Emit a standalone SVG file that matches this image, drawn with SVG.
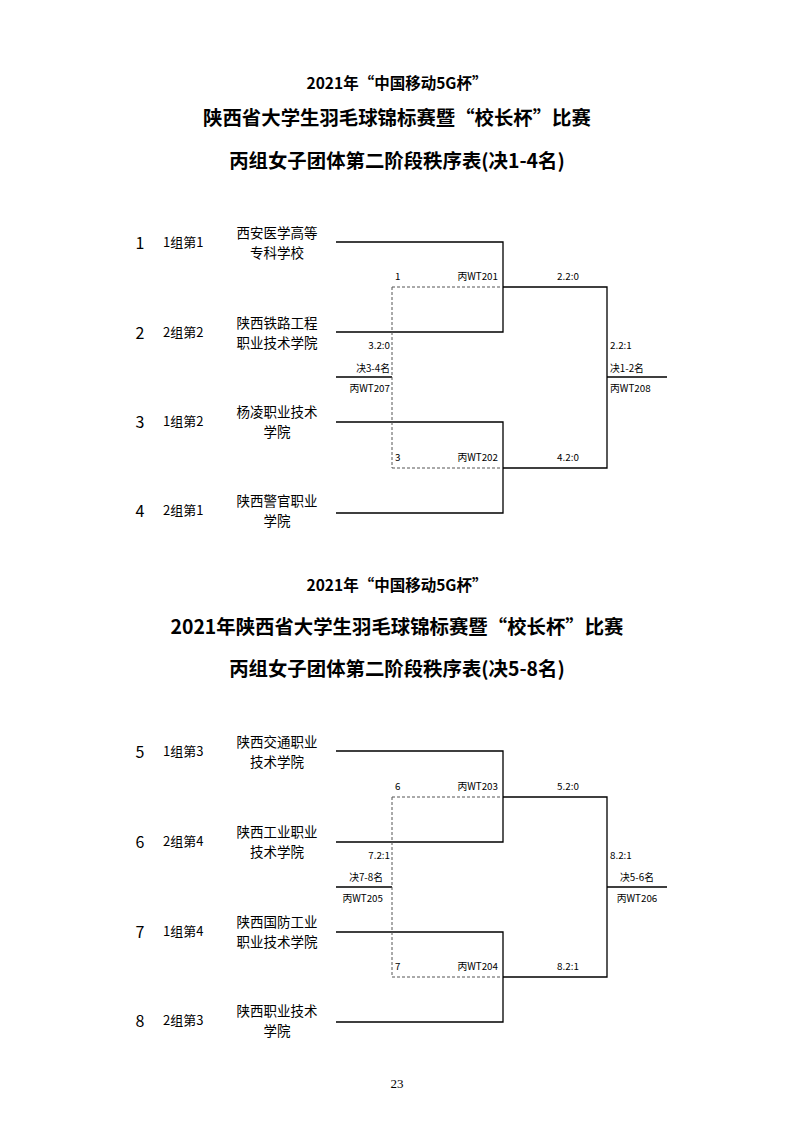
<svg xmlns="http://www.w3.org/2000/svg" width="794" height="1123" viewBox="0 0 794 1123">
<style>
text{font-family:"Noto Sans CJK SC","Noto Sans",sans-serif;fill:#000}
.t1{font-size:15.5px;font-weight:bold;text-anchor:middle}
.t2{font-size:19.4px;font-weight:bold;text-anchor:middle}
.num{font-size:16px;text-anchor:middle}
.grp{font-size:13px}
.sch{font-size:13.5px;text-anchor:middle}
.s{font-size:9.8px}
.e{text-anchor:end}
.m{text-anchor:middle}
.ln{stroke:#000;stroke-width:1.3;fill:none}
.ds{stroke:#555;stroke-width:1;stroke-dasharray:3,2;fill:none}
</style>
<rect width="794" height="1123" fill="#fff"/>
<g id="titles">
<text class="t1" x="397" y="89">2021年“中国移动5G杯”</text>
<text class="t2" x="397" y="125">陕西省大学生羽毛球锦标赛暨“校长杯”比赛</text>
<text class="t2" x="397" y="168">丙组女子团体第二阶段秩序表(决1-4名)</text>
<text class="t1" x="397" y="591">2021年“中国移动5G杯”</text>
<text class="t2" x="397" y="634">2021年陕西省大学生羽毛球锦标赛暨“校长杯”比赛</text>
<text class="t2" x="397" y="676">丙组女子团体第二阶段秩序表(决5-8名)</text>
<text x="397" y="1088" style="font-family:'Liberation Serif',serif;font-size:13px;text-anchor:middle">23</text>
</g>
<g id="team1"><text class="num" x="140" y="249">1</text><text class="grp" x="163" y="247">1组第1</text><text class="sch" x="277" y="238">西安医学高等</text><text class="sch" x="277" y="258">专科学校</text></g>
<g id="team2"><text class="num" x="140" y="339">2</text><text class="grp" x="163" y="337">2组第2</text><text class="sch" x="277" y="328">陕西铁路工程</text><text class="sch" x="277" y="348">职业技术学院</text></g>
<g id="team3"><text class="num" x="140" y="428">3</text><text class="grp" x="163" y="426">1组第2</text><text class="sch" x="277" y="417">杨凌职业技术</text><text class="sch" x="277" y="437">学院</text></g>
<g id="team4"><text class="num" x="140" y="517">4</text><text class="grp" x="163" y="515">2组第1</text><text class="sch" x="277" y="506">陕西警官职业</text><text class="sch" x="277" y="526">学院</text></g>
<g id="team5"><text class="num" x="140" y="758">5</text><text class="grp" x="163" y="756">1组第3</text><text class="sch" x="277" y="747">陕西交通职业</text><text class="sch" x="277" y="767">技术学院</text></g>
<g id="team6"><text class="num" x="140" y="848">6</text><text class="grp" x="163" y="846">2组第4</text><text class="sch" x="277" y="837">陕西工业职业</text><text class="sch" x="277" y="857">技术学院</text></g>
<g id="team7"><text class="num" x="140" y="938">7</text><text class="grp" x="163" y="936">1组第4</text><text class="sch" x="277" y="927">陕西国防工业</text><text class="sch" x="277" y="947">职业技术学院</text></g>
<g id="team8"><text class="num" x="140" y="1027">8</text><text class="grp" x="163" y="1025">2组第3</text><text class="sch" x="277" y="1016">陕西职业技术</text><text class="sch" x="277" y="1036">学院</text></g>
<g id="connectors">
<path class="ln" d="M336,242H503V332H336M336,422H503V513H336M503,287H607V468H503M607,377H667M336,377H392"/>
<path class="ds" d="M392,287H503M392,468H503M392,287V468"/>
<path class="ln" d="M336,751H503V842H336M336,932H503V1022H336M503,797H607V977H503M607,887H667M336,887H392"/>
<path class="ds" d="M392,797H503M392,977H503M392,797V977"/>
</g>
<g id="labels">
<text class="s" x="395" y="280">1</text><text class="s e" x="498" y="280">丙WT201</text><text class="s m" x="568" y="280">2.2:0</text>
<text class="s" x="395" y="461">3</text><text class="s e" x="498" y="461">丙WT202</text><text class="s m" x="568" y="461">4.2:0</text>
<text class="s e" x="390" y="349">3.2:0</text><text class="s e" x="390" y="372">决3-4名</text><text class="s e" x="390" y="392">丙WT207</text>
<text class="s" x="610" y="349">2.2:1</text><text class="s" x="610" y="372">决1-2名</text><text class="s" x="610" y="392">丙WT208</text>
<text class="s" x="395" y="790">6</text><text class="s e" x="498" y="790">丙WT203</text><text class="s m" x="568" y="790">5.2:0</text>
<text class="s" x="395" y="970">7</text><text class="s e" x="498" y="970">丙WT204</text><text class="s m" x="568" y="970">8.2:1</text>
<text class="s e" x="390" y="859">7.2:1</text><text class="s e" x="383" y="881">决7-8名</text><text class="s e" x="383" y="902">丙WT205</text>
<text class="s" x="610" y="859">8.2:1</text><text class="s m" x="637" y="881">决5-6名</text><text class="s m" x="637" y="902">丙WT206</text>
</g>
</svg>
